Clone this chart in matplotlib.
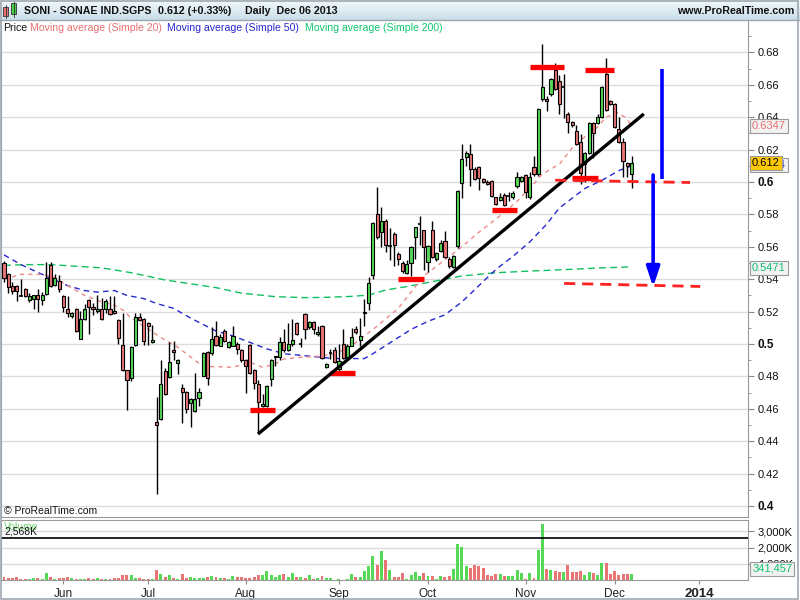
import numpy as np
import pandas as pd
import matplotlib
matplotlib.use('Agg')
import matplotlib.pyplot as plt
from matplotlib.patches import Rectangle
import matplotlib.transforms as mtrans

plt.rcParams['font.family'] = ['Liberation Sans', 'DejaVu Sans']

# ---------------- data ----------------
dates = pd.bdate_range('2013-05-14', '2013-12-06')

opens = [
    .5502, .5431, .5358, .5358, .5300, .5342, .5270, .5280, .5301, .5270,
    .5311, .5489, .5362, .5389, .5297, .5219, .5170, .5219, .5030, .5157,
    .5270, .5231, .5202, .5219, .5219, .5219, .5202, .5149, .4995, .4839,
    .4790, .4993, .5169, .5157, .5128, .5010, .4518, .4538, .4835, .4794,
    .4962, .4880, .4726, .4706, .4634, .4589, .4668, .4804, .4948, .4942,
    .5052, .4990, .5079, .4981, .4990, .5001, .4964, .4903, .4995, .4841,
    .4755, .4618, .4618, .4786, .4920, .4919, .5011, .4960, .4997, .5131,
    .5000, .5183, .5103, .5138, .5060, .5112, .4856, .4944, .4963, .4846,
    .4998, .4920, .4990, .5093, .5022, .5189, .5253, .5426, .5802, .5690,
    .5761, .5604, .5680, .5557, .5502, .5441, .5502, .5661, .5741, .5701,
    .5507, .5701, .5523, .5574, .5635, .5527, .5476, .5605, .5991, .6156,
    .6175, .6083, .6095, .6018, .6003, .6005, .5905, .5891, .5921, .5911,
    .5905, .5973, .6007, .6044, .5905, .6093, .6048, .6514, .6514, .6543,
    .6691, .6624, .6587, .6422, .6371, .6314, .6249, .6109, .6177, .6366,
    .6362, .6400, .6665, .6500, .6481, .6330, .6249, .6119, .6050]
highs = [
    .5510, .5440, .5380, .5365, .5400, .5345, .5315, .5305, .5342, .5320,
    .5506, .5506, .5430, .5425, .5300, .5297, .5200, .5222, .5206, .5245,
    .5275, .5250, .5301, .5285, .5280, .5297, .5297, .5152, .5194, .4842,
    .4985, .5190, .5190, .5160, .5135, .5116, .4671, .4899, .4850, .5010,
    .5020, .4905, .4750, .4710, .4665, .4821, .4730, .4950, .4955, .5102,
    .5144, .5060, .5095, .5020, .5110, .5010, .4970, .4910, .5000, .4845,
    .4776, .4694, .4745, .4910, .4928, .5042, .5090, .5130, .5155, .5135,
    .5040, .5190, .5145, .5145, .5110, .5115, .4880, .4970, .4980, .5000,
    .5091, .5000, .5100, .5110, .5163, .5276, .5413, .5750, .5967, .5845,
    .5770, .5716, .5690, .5565, .5510, .5520, .5605, .5725, .5792, .5705,
    .5610, .5762, .5570, .5640, .5700, .5535, .5550, .5950, .6232, .6190,
    .6232, .6090, .6100, .6025, .6010, .6010, .5910, .5930, .5930, .5940,
    .5945, .6060, .6040, .6050, .6060, .6162, .6455, .6851, .6530, .6640,
    .6733, .6660, .6666, .6430, .6375, .6350, .6295, .6185, .6370, .6370,
    .6420, .6590, .6763, .6505, .6485, .6400, .6270, .6125, .6160]
lows = [
    .5380, .5317, .5310, .5266, .5295, .5290, .5260, .5219, .5199, .5240,
    .5300, .5350, .5355, .5320, .5199, .5165, .5160, .5075, .5028, .5150,
    .5063, .5180, .5190, .5150, .5190, .5180, .5185, .4999, .4835, .4592,
    .4770, .4990, .5145, .4993, .4993, .5005, .4077, .4530, .4688, .4790,
    .4900, .4817, .4515, .4575, .4489, .4580, .4620, .4800, .4749, .4935,
    .4990, .4985, .5010, .4975, .4985, .4940, .4890, .4700, .4815, .4720,
    .4451, .4610, .4612, .4739, .4866, .4900, .4950, .4955, .4990, .5055,
    .4980, .5030, .5095, .5060, .5050, .4905, .4850, .4905, .4880, .4830,
    .4905, .4910, .4985, .5060, .4990, .5110, .5210, .5400, .5650, .5600,
    .5570, .5520, .5482, .5490, .5440, .5430, .5420, .5522, .5614, .5457,
    .5445, .5530, .5510, .5565, .5530, .5470, .5470, .5595, .5900, .6100,
    .5975, .6010, .5950, .5995, .5980, .5905, .5855, .5880, .5850, .5880,
    .5895, .5960, .6000, .5900, .5895, .6040, .6040, .6500, .6440, .6530,
    .6570, .6420, .6392, .6300, .6340, .6230, .5988, .6000, .6170, .6150,
    .6355, .6395, .6440, .6475, .6335, .6240, .6030, .6030, .5960]
closes = [
    .5409, .5349, .5327, .5327, .5297, .5297, .5297, .5301, .5280, .5301,
    .5409, .5358, .5409, .5342, .5231, .5190, .5190, .5079, .5157, .5219,
    .5231, .5219, .5219, .5157, .5266, .5184, .5190, .5040, .4839, .4776,
    .4981, .5169, .5149, .5020, .5108, .5022, .4497, .4753, .4692, .4886,
    .4948, .4901, .4706, .4599, .4659, .4659, .4706, .4942, .4788, .5030,
    .4995, .5043, .5018, .5011, .5048, .4970, .4903, .4864, .4823, .4761,
    .4643, .4630, .4741, .4903, .4925, .5011, .4960, .5001, .5026, .5060,
    .5001, .5093, .5138, .5093, .5075, .4911, .4875, .4946, .4887, .4898,
    .4915, .4990, .5042, .5073, .5048, .5200, .5379, .5747, .5661, .5761,
    .5614, .5605, .5614, .5522, .5451, .5492, .5600, .5722, .5742, .5599,
    .5605, .5537, .5564, .5625, .5537, .5482, .5544, .5942, .6144, .6181,
    .6083, .6018, .6022, .6001, .5987, .5911, .5864, .5905, .5860, .5912,
    .5934, .6032, .6032, .5936, .6032, .6048, .6451, .6585, .6502, .6635,
    .6575, .6481, .6588, .6371, .6351, .6236, .6054, .6177, .6366, .6301,
    .6399, .6585, .6445, .6481, .6341, .6249, .6130, .6100, .6120]
volumes_k = [
    165, 125, 125, 165, 80, 60, 80, 100, 100, 80,
    450, 165, 80, 125, 125, 165, 100, 80, 60, 80,
    125, 80, 125, 60, 60, 60, 100, 100, 310, 310,
    310, 125, 100, 80, 80, 80, 620, 370, 165, 290,
    125, 80, 370, 125, 165, 125, 100, 100, 165, 250,
    165, 100, 100, 80, 250, 165, 165, 125, 125, 165,
    290, 330, 580, 330, 165, 290, 370, 210, 410, 210,
    165, 125, 290, 80, 125, 250, 125, 125, 10, 60,
    20, 60, 370, 210, 165, 540, 870, 1480, 900, 1770,
    1240, 620, 210, 165, 450, 80, 310, 510, 250, 450,
    250, 250, 80, 250, 210, 250, 660, 2220, 2020, 860,
    760, 930, 860, 720, 310, 250, 370, 370, 250, 250,
    250, 620, 410, 40, 410, 125, 1850, 3460, 680, 620,
    560, 470, 470, 930, 470, 510, 560, 310, 470, 450,
    310, 1070, 1030, 370, 560, 310, 370, 370, 341]

# moving averages (candle index, value)
sma20_idx = [0, 4, 9, 12, 15, 19, 23, 26, 28, 30, 33, 37, 41, 44, 47, 50, 54, 58, 61, 64,
             66, 70, 74, 78, 82, 85, 88, 90, 93, 96, 99, 102, 106, 108, 112, 116, 121, 125,
             127, 131, 134, 137, 140, 142, 144.5, 146.5, 148]
sma20_val = [.540, .543, .543, .541, .536, .530, .526, .524, .521, .516, .511, .504, .498, .492,
             .486, .486, .4856, .4887, .4856, .4877, .4907, .4918, .4924, .4938, .499, .505,
             .511, .5155, .522, .532, .542, .548, .556, .560, .569, .577, .588, .599, .605,
             .611, .621, .628, .634, .640, .643, .640, .635]
sma50_idx = [0, 4, 9, 15, 19, 22, 26, 29, 33, 36, 40, 44, 47, 50, 54, 58, 62, 66, 70, 74, 78,
             82, 85, 87, 90, 93, 96, 100, 104, 108, 112, 116, 120, 124, 128, 131, 134, 137,
             141, 145, 148]
sma50_val = [.555, .549, .543, .536, .533, .532, .533, .530, .528, .525, .522, .516, .512, .508,
             .505, .501, .497, .494, .493, .492, .491, .491, .491, .494, .499, .504, .509, .514,
             .518, .526, .536, .546, .554, .563, .574, .584, .590, .596, .601, .607, .610]
sma200_idx = [0, 5, 11, 17, 23, 30, 38, 46, 50, 56, 64, 71, 76, 82, 86, 90, 96, 100, 108, 116,
              124, 133, 141, 148]
sma200_val = [.5485, .549, .549, .548, .547, .544, .5395, .5364, .5348, .5314, .5292, .5286,
              .5288, .5294, .5302, .5333, .5359, .538, .542, .544, .545, .546, .547, .5476]

# hand-drawn analysis objects (candle index, price)
sr_start = [58.0, 76.9, 93.0, 115.1, 124.1, 137.0, 134.0]
sr_end = [63.9, 82.9, 99.1, 121.0, 132.1, 143.9, 140.0]
sr_price = [0.4594, 0.4823, 0.5401, 0.5829, 0.6712, 0.6691, 0.6026]
trend_i = [59.9, 150.9]
trend_p = [0.4444, 0.6420]
dash_hi_i = [130.0, 161.8]
dash_hi_p = [0.6011, 0.5997]
dash_lo_i = [132.1, 164.2]
dash_lo_p = [0.5374, 0.5355]
target_i = 155.1
target_p = [0.6698, 0.6019]
arrow_i = 153.1
arrow_p = [0.6043, 0.5352]

last_price = 0.612
vol_ref_k = 2568
label_sma20, label_sma50, label_sma200 = 0.6347, 0.6104, 0.5471
last_vol = 341457

# ---------------- layout helpers ----------------
W, H = 800, 600
fig = plt.figure(figsize=(8, 6), dpi=100)
fig.patch.set_facecolor('white')


def fx(px):
    return px / W


def fy(py):
    return 1 - py / H


n = len(opens)
xmin, xmax = (1 - 4) / 4.24, (748 - 4) / 4.24

# ---------------- header ----------------
hax = fig.add_axes([0, fy(20), 1, 20 / H])
grad = np.linspace(0, 1, 50).reshape(-1, 1)
c_top = np.array([0.95, 0.98, 0.99])
c_bot = np.array([0.79, 0.87, 0.91])
img = c_top[None, None, :] * (1 - grad[:, :, None]) + c_bot[None, None, :] * grad[:, :, None]
hax.imshow(img, aspect='auto', extent=[0, 1, 0, 1])
hax.set_axis_off()
hax.add_patch(Rectangle((3 / W, 0.2), 5 / W, 0.45, fc='#E87070', ec='#333', lw=0.6))
hax.plot([5.5 / W, 5.5 / W], [0.1, 0.75], color='#333', lw=0.6)
hax.add_patch(Rectangle((11 / W, 0.3), 5 / W, 0.55, fc='#44CC44', ec='#333', lw=0.6))
hax.plot([13.5 / W, 13.5 / W], [0.15, 0.95], color='#333', lw=0.6)
hax.set_xlim(0, 1)
hax.set_ylim(0, 1)
hdr_kw = dict(fontsize=7.7, fontweight='bold', va='center', color='#111')
fig.text(fx(24), fy(11), 'SONI - SONAE IND.SGPS', **hdr_kw)
fig.text(fx(158), fy(11), f'{last_price:.3f} (+0.33%)', **hdr_kw)
fig.text(fx(245), fy(11), 'Daily  Dec 06 2013', **hdr_kw)
fig.text(fx(794), fy(11), 'www.ProRealTime.com', ha='right', **hdr_kw)
fig.add_artist(plt.Line2D([0, 1], [fy(20), fy(20)], color='#9AA8B2', lw=1))

# ---------------- price panel ----------------
axp = fig.add_axes([fx(1), fy(517), fx(747), (517 - 20) / H])
axp.set_xlim(xmin, xmax)
axp.set_ylim(0.3932, 0.700)
axp.set_facecolor('white')
yt = np.round(np.arange(0.40, 0.681, 0.02), 2)
axp.set_yticks(yt)
axp.set_yticks(np.round(np.arange(0.40, 0.70, 0.01), 2), minor=True)
ylabels = [('%.2f' % v).rstrip('0') for v in yt]
axp.set_yticklabels(ylabels)
axp.yaxis.tick_right()
axp.tick_params(axis='y', which='major', direction='out', length=4, color='#888',
                labelsize=8, pad=3, labelcolor='#111')
axp.tick_params(axis='y', which='minor', direction='out', length=2, color='#888')
axp.tick_params(axis='x', bottom=False, labelbottom=False)
for lab in axp.get_yticklabels():
    if lab.get_text() in ('0.6', '0.5', '0.4'):
        lab.set_fontweight('bold')
        lab.set_fontsize(8.5)
axp.yaxis.grid(True, color='#DCDCDC', lw=1)
axp.set_axisbelow(True)
for s in ['left', 'right', 'bottom']:
    axp.spines[s].set_color('#9A9A9A')
axp.spines['top'].set_visible(False)

# moving averages
axp.plot(sma200_idx, sma200_val, color='#10C060', lw=1.0, ls=(0, (5, 3)), zorder=2)
axp.plot(sma50_idx, sma50_val, color='#2828D0', lw=1.0, ls=(0, (4, 3)), zorder=2)
axp.plot(sma20_idx, sma20_val, color='#EC8A8A', lw=1.0, ls=(0, (3, 3)), zorder=2)

# candles
up_col, dn_col = '#55D855', '#E87474'
for i in range(n):
    o, h, l, c = opens[i], highs[i], lows[i], closes[i]
    axp.vlines(i, l, h, color='black', lw=1.0, zorder=3)
    lo, hi = min(o, c), max(o, c)
    col = up_col if c >= o else dn_col
    if hi - lo < 0.0005:
        axp.hlines((lo + hi) / 2, i - 0.4, i + 0.4, color='black', lw=1.2, zorder=4)
    else:
        axp.add_patch(Rectangle((i - 0.37, lo), 0.74, hi - lo, fc=col, ec='black',
                                lw=0.8, zorder=4))

# analysis drawings
for a, b, p in zip(sr_start, sr_end, sr_price):
    axp.plot([a, b], [p, p], color='#FF0000', lw=3.8, solid_capstyle='butt', zorder=6)
axp.plot(trend_i, trend_p, color='black', lw=2.4, solid_capstyle='butt', zorder=6)
axp.plot(dash_hi_i, dash_hi_p, color='#FF2020', lw=2.0, ls=(0, (4, 2.5)), zorder=6)
axp.plot(dash_lo_i, dash_lo_p, color='#FF2020', lw=2.0, ls=(0, (4, 2.5)), zorder=6)
axp.plot([target_i, target_i], target_p, color='#0000FF', lw=2.6, solid_capstyle='butt', zorder=6)
axp.annotate('', xy=(arrow_i, arrow_p[1]), xytext=(arrow_i, arrow_p[0]),
             arrowprops=dict(arrowstyle='-|>,head_length=1.2,head_width=0.4', color='#0000FF',
                             lw=2.6, shrinkA=0, shrinkB=0), zorder=6)

# value boxes on the right axis
btr = mtrans.blended_transform_factory(axp.transAxes, axp.transData)


def vbox(val, txt, tc, fc):
    axp.text(1.0055, val, txt, transform=btr, ha='left', va='center', fontsize=8,
             color=tc, clip_on=False, zorder=10,
             bbox=dict(boxstyle='square,pad=0.18', fc=fc, ec='#9A9A9A', lw=0.8))


vbox(label_sma20, f'{label_sma20:.4f}', '#E87070', '#F2F2F2')
vbox(label_sma50, f'{label_sma50:.4f}', '#2828D0', '#F2F2F2')
vbox(last_price, f'{last_price:.3f}', '#000000', '#FFC800')
vbox(label_sma200, f'{label_sma200:.4f}', '#10C070', '#F2F2F2')

# legend line
lg_kw = dict(fontsize=7.6, va='center')
fig.text(fx(3), fy(28), 'Price', color='#111', **lg_kw)
fig.text(fx(30), fy(28), 'Moving average (Simple 20)', color='#E87070', **lg_kw)
fig.text(fx(167), fy(28), 'Moving average (Simple 50)', color='#2828D0', **lg_kw)
fig.text(fx(305), fy(28), 'Moving average (Simple 200)', color='#10C870', **lg_kw)
fig.text(fx(4), fy(511), '\u00a9 ProRealTime.com', color='#111', fontsize=7.5, va='center')

# ---------------- volume panel ----------------
axv = fig.add_axes([fx(1), fy(580), fx(747), 60 / H])
axv.set_xlim(xmin, xmax)
axv.set_ylim(0, 3700)
vcols = [up_col if closes[i] >= opens[i] else dn_col for i in range(n)]
axv.bar(np.arange(n), volumes_k, width=0.7, color=vcols, zorder=3)
axv.axhline(vol_ref_k, color='black', lw=1.2, zorder=4)
axv.set_yticks([1000, 2000, 3000])
axv.set_yticklabels(['1,000K', '2,000K', '3,000K'])
axv.yaxis.tick_right()
axv.tick_params(axis='y', direction='out', length=4, color='#888', labelsize=8, pad=3,
                labelcolor='#111')
axv.yaxis.grid(True, color='#DCDCDC', lw=1)
axv.set_axisbelow(True)
for s in ['left', 'right', 'bottom', 'top']:
    axv.spines[s].set_color('#9A9A9A')

# month ticks
hol = ['2013-12-25', '2013-12-26', '2014-01-01']
alldays = pd.bdate_range('2013-05-14', '2014-01-10', freq='C', holidays=hol)
tick_pos, tick_lab = [], []
for k in range(1, len(alldays)):
    if alldays[k].month != alldays[k - 1].month:
        tick_pos.append(k)
        tick_lab.append('2014' if alldays[k].year == 2014 else alldays[k].strftime('%b'))
axv.set_xticks(tick_pos)
axv.set_xticklabels(tick_lab)
axv.tick_params(axis='x', direction='out', length=3, color='#888', labelsize=8.5, pad=3,
                labelcolor='#222')
for lab in axv.get_xticklabels():
    if lab.get_text() == '2014':
        lab.set_fontweight('bold')
        lab.set_fontsize(9.5)

btv = mtrans.blended_transform_factory(axv.transAxes, axv.transData)
axv.text(1.0055, 700, f'{last_vol:,}', transform=btv, ha='left', va='center', fontsize=8,
         color='#10C070', clip_on=False, zorder=10,
         bbox=dict(boxstyle='square,pad=0.18', fc='#F2F2F2', ec='#9A9A9A', lw=0.8))
fig.text(fx(4), fy(527), 'Volume', color='#55CC55', fontsize=7.5, va='center', alpha=0.8)
fig.text(fx(4), fy(532), f'{vol_ref_k / 1000:,.3f}K'.replace('.', ','), color='#111',
         fontsize=7.5, va='center')

# outer frame
fig.add_artist(Rectangle((0.001, 0.002), 0.997, 0.996, transform=fig.transFigure,
                         fill=False, ec='#A0A8B0', lw=1.2))

fig.savefig('out.png', dpi=100)
